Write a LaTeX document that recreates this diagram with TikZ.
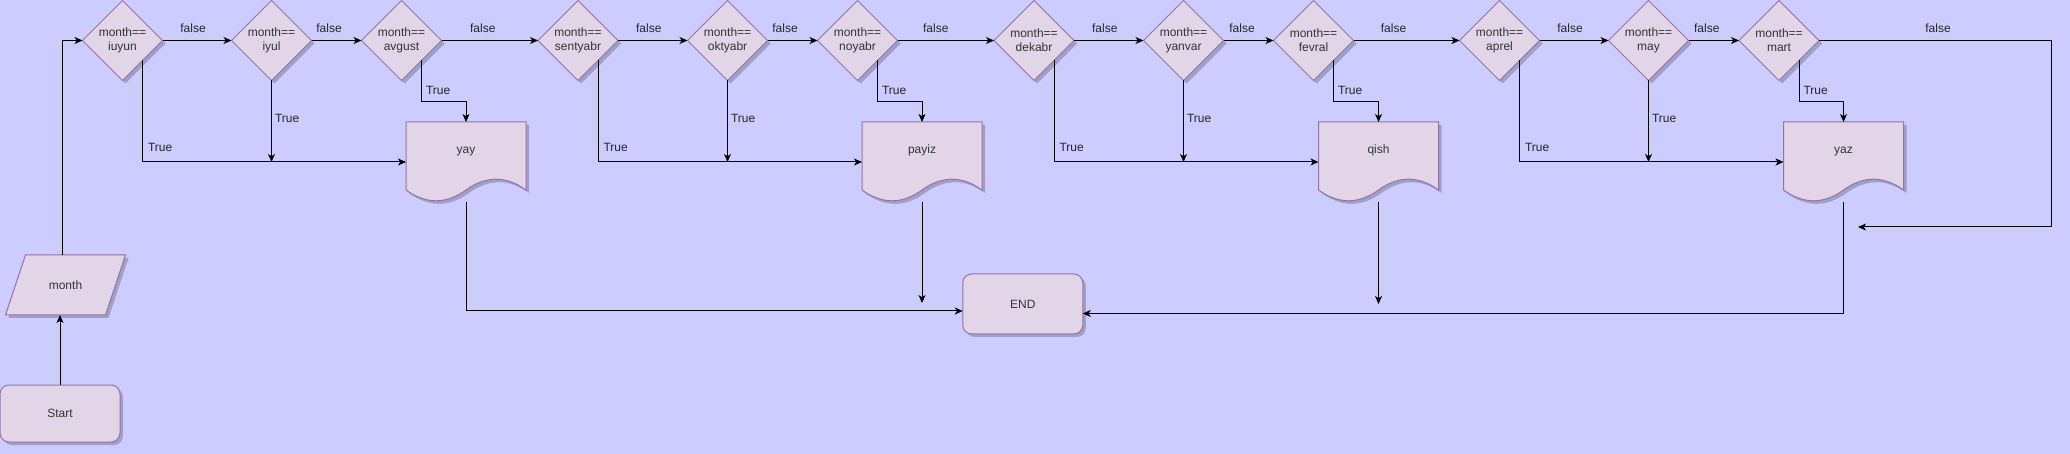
\documentclass[tikz,border=0pt]{standalone}
\usepackage{fontspec}
\setmainfont{Liberation Sans}
\usetikzlibrary{shapes.geometric,arrows.meta,calc,shadows}
\definecolor{bgc}{HTML}{CCCCFF}
\definecolor{nfill}{HTML}{E1D5E7}
\definecolor{nline}{HTML}{9673A6}
\definecolor{ntxt}{HTML}{333333}
\newcommand\dfont{\fontsize{12pt}{14.4pt}\selectfont}
\tikzset{
  shd/.style={drop shadow={shadow xshift=3pt,shadow yshift=-3pt,opacity=0.22,fill=black}},
  dec/.style={diamond, aspect=1, minimum width=80pt, minimum height=80pt, inner sep=0pt, outer sep=0pt,
    draw=nline, fill=nfill, line width=1pt, shd, font=\dfont, align=center, text=ntxt},
  term/.style={rectangle, rounded corners=9pt, minimum width=120pt, inner sep=0pt, outer sep=0pt,
    draw=nline, fill=nfill, line width=1pt, shd, font=\dfont, text=ntxt},
  docnode/.style={rectangle, minimum width=120pt, minimum height=80pt, inner sep=0pt, outer sep=0pt,
    text height=9pt, text depth=26pt, font=\dfont, text=ntxt},
  ionode/.style={rectangle, minimum width=120pt, minimum height=60pt, inner sep=0pt, outer sep=0pt,
    font=\dfont, text=ntxt},
  shapefill/.style={draw=nline, fill=nfill, line width=1pt, shd},
  arr/.style={draw=black, line width=1pt, -{Stealth[length=8pt,width=7pt,inset=2.2pt]}},
  lbl/.style={font=\dfont, text=black!85, inner sep=0pt, anchor=base},
}
\newcommand\docat[4]{%
  \begin{scope}[shift={(#2-60,#3-40)}]
    \path[shapefill] (0,0) -- (120,0) -- (120,68)
      .. controls (100,53.6) and (80,53.6) .. (60,68)
      .. controls (40,82.4) and (20,82.4) .. (0,68) -- cycle;
  \end{scope}
  \node[docnode] (#1) at (#2,#3) {#4};}
\begin{document}
\begin{tikzpicture}[x=1pt,y=-1pt]
\useasboundingbox (0,0) rectangle (2070,454);
\fill[bgc] (0,0) rectangle (2070,454);

% decisions
\node[dec] (iuyun)    at (122.5,40.5) {month==\\iuyun};
\node[dec] (iyul)     at (271.5,40.5) {month==\\iyul};
\node[dec] (avgust)   at (401.5,40.5) {month==\\avgust};
\node[dec] (sentyabr) at (578,40.5)   {month==\\sentyabr};
\node[dec] (oktyabr)  at (727.5,40.5) {month==\\oktyabr};
\node[dec] (noyabr)   at (857.5,40.5) {month==\\noyabr};
\node[dec] (dekabr)   at (1034,40.5)  {month==\\dekabr};
\node[dec] (yanvar)   at (1183.5,40.5){month==\\yanvar};
\node[dec] (fevral)   at (1313.5,40.5){month==\\fevral};
\node[dec] (aprel)    at (1499.5,40.5){month==\\aprel};
\node[dec] (may)      at (1648.5,40.5){month==\\may};
\node[dec] (mart)     at (1779,40.5)  {month==\\mart};

% documents
\docat{yay}{466}{162}{yay}
\docat{payiz}{922}{162}{payiz}
\docat{qish}{1378.5}{162}{qish}
\docat{yaz}{1843.5}{162}{yaz}

% input
\path[shapefill] (25.5,255) -- (125.5,255) -- (105.5,315) -- (5.5,315) -- cycle;
\node[ionode] (month) at (65.5,285) {month};

% terminals
\node[term, minimum height=57pt] (start) at (60,413.5) {Start};
\node[term, minimum height=60pt] (endn) at (1022.75,304) {END};

% connectors
\draw[arr] (start.north) -- (start.north |- month.south);
\draw[arr] ([xshift=-3pt]month.north) |- (iuyun.west);

\foreach \a/\b/\s in {iuyun/iyul/-4, iyul/avgust/-7.5, avgust/sentyabr/-7,
    sentyabr/oktyabr/-4, oktyabr/noyabr/-7.5, noyabr/dekabr/-10,
    dekabr/yanvar/-4, yanvar/fevral/-6.5, fevral/aprel/-13,
    aprel/may/-4, may/mart/-7}
  \draw[arr] (\a.east) -- node[lbl, yshift=7.5pt, xshift=\s pt] {false} (\b.west);

\foreach \p/\q/\r/\d in {iuyun/iyul/avgust/yay, sentyabr/oktyabr/noyabr/payiz,
    dekabr/yanvar/fevral/qish, aprel/may/mart/yaz} {
  \draw[arr] (\p.south east) |- node[lbl, pos=0.446, anchor=base west, xshift=5pt] {True} (\d.west);
  \draw[arr] (\q.south) -- node[lbl, pos=0.516, anchor=base west, xshift=3pt] {True} (\q.south |- \d.west);
  \draw[arr] (\r.south east) -- node[lbl, pos=0.837, anchor=base west, xshift=4pt] {True} ++(0,41) -| (\d.north);
}

\coordinate (mfc) at (2051,40.5);
\coordinate (mfe) at (1858,227);
\draw[arr] (mart.east) -- node[lbl, yshift=7.5pt, xshift=3pt] {false} (mfc) |- (mfe);

\coordinate (pze) at (922,303);
\coordinate (qse) at (1378.5,304);
\draw[arr] (yay.south) |- ([yshift=-7pt]endn.west);
\draw[arr] (payiz.south) -- (pze);
\draw[arr] (qish.south) -- (qse);
\draw[arr] (yaz.south) |- ([yshift=-9.5pt]endn.east);
\end{tikzpicture}
\end{document}
